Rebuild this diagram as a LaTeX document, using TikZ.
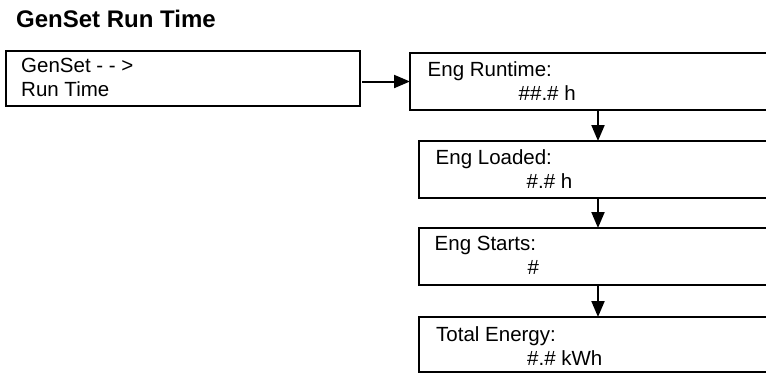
\documentclass[tikz,border=0pt]{standalone}
\usepackage{fontspec}
\setmainfont{Liberation Sans}
\usetikzlibrary{arrows.meta,positioning}
\tikzset{
    menubox/.style={
        rectangle,
        draw=black,
        line width=2pt,
        minimum width=400pt,
        minimum height=57pt,
        inner sep=0pt,
        outer sep=0pt,
        anchor=north west
    },
    boxtext/.style={
        anchor=base west,
        align=left,
        inner sep=0pt,
        font=\fontsize{20.5}{23.3}\selectfont
    },
    arrow/.style={
        -{Triangle[length=16pt,width=13pt]},
        line width=2pt,
        draw=black
    }
}

\begin{document}
\begin{tikzpicture}[x=1pt,y=-1pt]
            \useasboundingbox (0,0) rectangle (766,373);
            \clip (0,0) rectangle (766,373);

            % Title
            \node[anchor=base west, inner sep=0pt,
                  font=\fontsize{24}{28}\selectfont\bfseries] (title) at (16,27.3)
                {GenSet Run Time};

            % Menu entry
            \node[menubox, minimum width=354pt, minimum height=55pt] (menu) at (6,51) {};
            \node[boxtext] (menutext) at ([shift={(15,45)}]menu.north west)
                {GenSet - - >\\Run Time};

            % Screens
            \node[menubox] (runtime) at (410,53) {};
            \node[menubox] (loaded) at (419,141) {};
            \node[menubox] (starts) at (419,228) {};
            \node[menubox, minimum height=55pt] (energy) at (419,317) {};

            \node[boxtext] (runtimetext) at ([shift={(17.5,47)}]runtime.north west)
                {Eng Runtime:\\\hspace*{91pt}\#\#.\# h};
            \node[boxtext] (loadedtext) at ([shift={(16.5,47)}]loaded.north west)
                {Eng Loaded:\\\hspace*{91pt}\#.\# h};
            \node[boxtext] (startstext) at ([shift={(15.5,46)}]starts.north west)
                {Eng Starts:\\\hspace*{93pt}\#};
            \node[boxtext] (energytext) at ([shift={(17,48)}]energy.north west)
                {Total Energy:\\\hspace*{91pt}\#.\# kWh};

            % Arrows
            \coordinate (down) at (598,0);
            \draw[arrow, shorten <=2pt] (menu.east |- runtime.west) -- (runtime.west);
            \draw[arrow] (down |- runtime.south) -- (down |- loaded.north);
            \draw[arrow] (down |- loaded.south) -- (down |- starts.north);
            \draw[arrow] (down |- starts.south) -- (down |- energy.north);
\end{tikzpicture}
\end{document}
